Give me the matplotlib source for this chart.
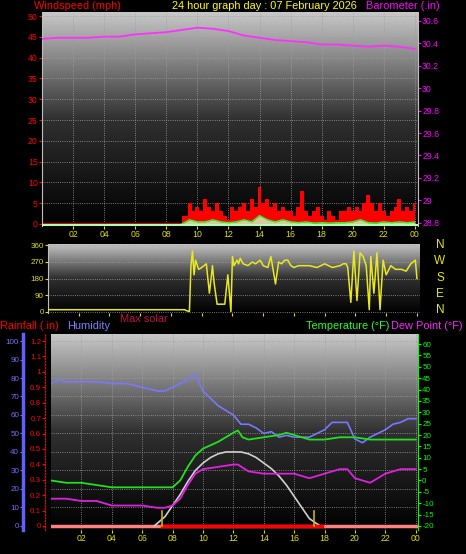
import numpy as np
import matplotlib
matplotlib.use("Agg")
import matplotlib.pyplot as plt
from matplotlib.colors import LinearSegmentedColormap

plt.rcParams["font.family"] = ["Liberation Sans", "DejaVu Sans"]
plt.rcParams["axes.unicode_minus"] = False

# ---------------- data ----------------
baro_h = list(range(25))
baro = [30.44,30.45,30.45,30.45,30.46,30.46,30.48,30.49,30.50,30.52,30.54,30.53,30.51,
        30.47,30.45,30.43,30.42,30.41,30.39,30.39,30.38,30.37,30.38,30.37,30.35]

gust_t = [9.0,9.25,9.5,9.75,10.0,10.25,10.5,10.75,11.0,11.25,
          11.5,11.75,12.0,12.25,12.5,12.75,13.0,13.25,13.5,13.75,
          14.0,14.25,14.5,14.75,15.0,15.25,15.5,15.75,16.0,16.25,
          16.5,16.75,17.0,17.25,17.5,17.75,18.0,18.25,18.5,18.75,
          19.0,19.25,19.5,19.75,20.0,20.25,20.5,20.75,21.0,21.25,
          21.5,21.75,22.0,22.25,22.5,22.75,23.0,23.25,23.5,23.75,24.0]
gust = [2,2,5,3,4,3,6,4,3,5,
        3,2,1,4,3,4,5,3,6,4,
        9,5,6,4,5,3,4,3,3,2,
        4,8,3,2,3,4,2,1,3,2,
        1,3,3,4,3,4,3,5,7,5,
        3,5,3,2,3,4,6,3,4,3,5]
avg_t = [9.0,9.5,10.0,10.5,11.0,11.5,12.0,12.5,13.0,13.5,
         14.0,14.5,15.0,15.5,16.0,16.5,17.0,17.5,18.0,18.5,
         19.0,19.5,20.0,20.5,21.0,21.5,22.0,22.5,23.0,23.5,24.0]
avg = [0,1,0.5,0.5,1,0.5,0.3,0.5,1,0.5,
       2,1,0.5,1,0.5,0.3,0.5,0.2,0.3,0.2,
       0.3,0.3,0.5,1,0.3,0.2,0.5,0.3,0.5,0.3,0.5]

dir_t = [0,8.9,9.0,9.2,9.3,9.4,9.5,9.6,9.8,10.0,
         10.3,10.5,10.7,10.8,11.0,11.2,11.5,11.7,11.9,12.0,
         12.1,12.3,12.4,12.5,12.7,13.0,13.3,13.5,13.8,14.0,
         14.3,14.5,14.8,15.0,15.2,15.4,15.6,15.8,16.0,16.3,
         16.5,17.0,17.5,18.0,18.5,19.0,19.2,19.4,19.5,19.7,
         19.9,20.1,20.3,20.5,20.7,20.9,21.0,21.2,21.4,21.6,
         21.8,22.0,22.3,22.6,23.0,23.3,23.6,23.9,24.0]
wdir = [10,10,5,0,250,330,200,280,230,240,
        260,100,250,160,40,40,40,200,0,300,
        250,280,260,290,260,250,270,260,280,250,
        240,300,150,270,260,280,280,250,240,250,
        250,250,240,260,240,250,260,260,240,50,
        330,60,320,300,250,10,300,100,320,10,
        280,200,250,230,230,220,260,280,180]

hum_t = [0,0.5,1,2,3,4,5,6,7,7.5,8,9,9.5,10,11,12,12.5,13,13.5,14,14.5,15,15.5,16,17,
         17.5,18,18.5,19,19.5,20,20.5,21,21.5,22,22.5,23,23.5,24]
hum = [77,79,78,78,78,77,77,75,73,73,75,79,82,73,65,60,55,55,53,50,51,48,49,48,48,
       50,52,56,56,56,47,45,48,50,52,55,56,58,58]

temp_t = [0,1,2,3,4,5,6,7,8,8.5,9,9.5,10,11,12,12.3,12.6,13,14,15,15.5,16,17,18,19,20,21,22,23,24]
temp = [0,-1,-1,-2,-3,-3,-3,-3,-3,0,6,11,14,17,21,22,19,18,19,20,21,20,18,18,19,19,18,18,18,18]

dew_t = [0,1,2,3,4,5,6,7,7.5,8,8.5,9,9.5,10,11,12,12.3,13,14,15,16,17,18,19,19.5,20,20.5,21,22,23,24]
dew = [-8,-8,-9,-9,-11,-11,-11,-12,-12,-11,-8,-2,3,5,6,7,7,4,3,3,3,1,3,5,5,1,0,-1,3,5,5]

solar_t = [6.8,7.5,8,8.5,9,9.5,10,10.5,11,11.5,12,12.5,13,13.5,14,14.5,15,15.5,16,16.5,17,17.7]
solar = [0,5,11,17,24,30,34,37,39,40,40,40,39,37,34,31,27,22,16,10,4,0]

sun_marks = [7.3, 17.3]
hour_ticks = [2,4,6,8,10,12,14,16,18,20,22,24]
hour_labels = ["02","04","06","08","10","12","14","16","18","20","22","00"]

# ---------------- layout ----------------
W, H = 466, 554
fig = plt.figure(figsize=(W/100, H/100), dpi=100, facecolor="black")

def pax(x0, y0, x1, y1):
    return fig.add_axes([x0/W, 1-y1/H, (x1-x0)/W, (y1-y0)/H])

cmap = LinearSegmentedColormap.from_list("g", ["#000000", "#303030", "#c8c8c8"])
def bg(ax):
    ax.set_facecolor("black")
    grad = np.linspace(0, 1, 256).reshape(-1, 1)
    ax.imshow(grad, cmap=cmap, aspect="auto", extent=[0, 1, 0, 1],
              transform=ax.transAxes, origin="lower", zorder=0)

def style(ax, color, size=6.3):
    ax.tick_params(colors=color, labelsize=size, length=2, pad=1)
    for s in ax.spines.values():
        s.set_visible(False)

gridkw = dict(color="#a0a0a0", lw=0.6, ls=":")

# ---- top panel ----
ax1 = pax(42, 12, 418, 226)
bg(ax1)
ax1.set_xlim(0, 24.2)
ax1.set_ylim(-0.5, 51)
ax1.set_yticks(range(0, 51, 5))
ax1.set_xticks(hour_ticks)
ax1.set_xticklabels(hour_labels)
ax1.grid(True, **gridkw)
style(ax1, "red")
ax1.tick_params(axis="x", colors="#e0e000")
ax1.spines["left"].set_visible(True); ax1.spines["left"].set_color("#c0c0c0")
ax1.fill_between(gust_t, gust, 0, step="mid", color="red", lw=0, zorder=2)
ax1.plot([0, 9], [0, 0], color="#d00000", lw=1.5, zorder=2)
ax1.fill_between(avg_t, avg, 0, color="#d0ffd0", alpha=0.8, lw=0, zorder=3)
ax1.plot(avg_t, avg, color="#20ff20", lw=1, zorder=3)
ax1.axhline(-0.3, color="#b0ffb0", lw=1.5, zorder=3)
ax1b = ax1.twinx()
ax1b.set_ylim(28.77, 30.68)
ax1b.set_yticks(np.round(np.arange(28.8, 30.61, 0.2), 1))
ax1b.set_yticklabels(["28.8","29","29.2","29.4","29.6","29.8","30","30.2","30.4","30.6"])
style(ax1b, "#ff00ff")
ax1b.spines["right"].set_visible(True); ax1b.spines["right"].set_color("#c0c0c0")
ax1b.plot(baro_h, baro, color="#ff30ff", lw=1.3, zorder=4)

# ---- middle panel ----
ax2 = pax(48, 244, 420, 313)
bg(ax2)
ax2.set_xlim(0, 24.2)
ax2.set_ylim(-8, 368)
ax2.set_yticks([0, 90, 180, 270, 360])
ax2.set_xticks(hour_ticks)
ax2.set_xticklabels([])
ax2.tick_params(axis="x", length=0)
ax2.grid(True, axis="y", **gridkw)
style(ax2, "#e0e000", 5.8)
ax2.spines["left"].set_visible(True); ax2.spines["left"].set_color("#c0c0c0")
ax2.plot(dir_t, wdir, color="#e8e820", lw=1.1, zorder=3)
for i, c in enumerate(["N", "W", "S", "E", "N"]):
    fig.text(440/W, 1-(245+i*16.3)/H, c, color="#e8e800", fontsize=8.5, ha="center", va="center")

# ---- bottom panel ----
ax3 = pax(51, 334, 418, 530)
bg(ax3)
ax3.set_xlim(0, 24.15)
ax3.set_ylim(-2.2, 103.8)
ax3.set_yticks(range(0, 101, 10))
ax3.set_xticks(hour_ticks)
ax3.set_xticklabels(hour_labels)
ax3.grid(True, **gridkw)
style(ax3, "#7070ff", 5.8)
ax3.tick_params(axis="x", colors="#e0e000", labelsize=6.3)
ax3.spines["left"].set_visible(True)
ax3.spines["left"].set_position(("outward", 20))
ax3.spines["left"].set_color("#6060ff")
ax3.spines["left"].set_linewidth(2.5)
ax3.plot(hum_t, hum, color="#7878ff", lw=1.2, zorder=3)
ax3.plot(solar_t, solar, color="#d0d0d0", lw=1.2, zorder=3)
for m in sun_marks:
    ax3.plot([m, m], [0, 8], color="#c8b400", lw=1.2, zorder=4)
ax3.axhline(0, color="#ff8080", lw=2.5, zorder=2)
ax3.plot([7.3, 17.8], [0, 0], color="red", lw=2.5, zorder=3)

ax3r = ax3.twinx()
ax3r.set_ylim(-0.026, 1.246)
ax3r.set_yticks(np.round(np.arange(0, 1.21, 0.1), 1))
ax3r.set_yticklabels(["0","0.1","0.2","0.3","0.4","0.5","0.6","0.7","0.8","0.9","1","1.1","1.2"])
ax3r.yaxis.set_ticks_position("left")
style(ax3r, "red", 5.8)
ax3r.spines["left"].set_visible(True)
ax3r.spines["left"].set_position(("outward", 4))
ax3r.spines["left"].set_color("red")
ax3r.spines["left"].set_linestyle(":")

ax3t = ax3.twinx()
ax3t.set_ylim(-21.76, 64.4)
ax3t.set_yticks(range(-20, 61, 5))
style(ax3t, "#00ff00", 5.8)
ax3t.spines["right"].set_visible(True); ax3t.spines["right"].set_color("#00ff00")
ax3t.plot(temp_t, temp, color="#20e020", lw=1.3, zorder=3)
ax3t.plot(dew_t, dew, color="#e020e0", lw=1.3, zorder=3)

# ---- header texts ----
fs = 7.9
def t(x, y, s, c, ha="left"):
    fig.text(x/W, 1-y/H, s, color=c, fontsize=fs, ha=ha, va="center")
t(34, 6, "Windspeed (mph)", "red")
t(172, 6, "24 hour graph day : 07 February 2026", "#ffff00")
t(440, 6, "Barometer (.in)", "#ff00ff", ha="right")
t(120, 319, "Max solar", "#c01040")
t(0, 326, "Rainfall (.in)", "red")
t(67, 326, "Humidity", "#8080ff")
t(389, 326, "Temperature (°F)", "#20ff20", ha="right")
t(463, 326, "Dew Point (°F)", "#ff20ff", ha="right")

fig.savefig("out.png", dpi=100, facecolor="black")
